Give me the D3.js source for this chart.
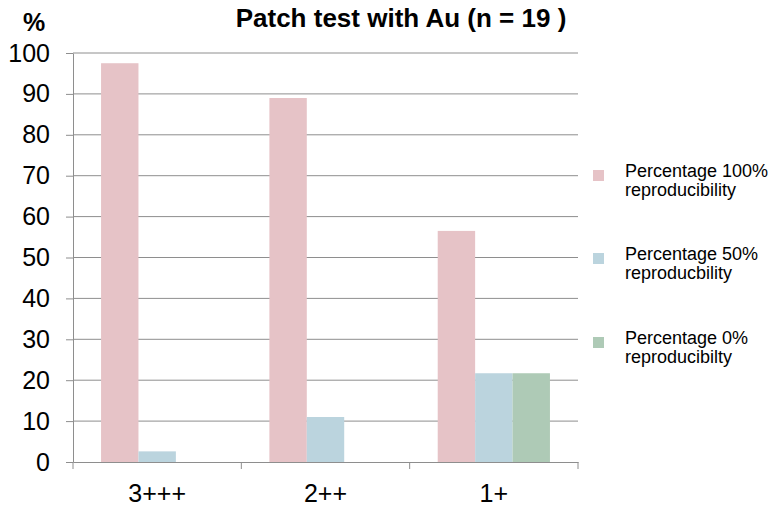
<!DOCTYPE html>
<html><head><meta charset="utf-8">
<script src="https://cdn.jsdelivr.net/npm/d3@7"></script>
<style>body{margin:0;background:#fff;} text{font-family:"Liberation Sans",Arial,sans-serif;}</style>
</head><body>
<svg id="c" width="776" height="506"></svg>
<script>
const categories = ["3+++", "2++", "1+"];
const seriesNames = ["Percentage 100%\nreproducibility", "Percentage 50%\nreproducbility", "Percentage 0%\nreproducibilty"];
const pct100 = [97.5, 89.0, 56.5];
const pct50 = [2.6, 11.0, 21.7];
const pct0 = [0, 0, 21.7];
const yTicks = [0, 10, 20, 30, 40, 50, 60, 70, 80, 90, 100];
const colors = ["#E6C3C7", "#BBD4DE", "#AECAB6"];
const series = [pct100, pct50, pct0];

(function(){
const svg = d3.select("#c");
const pl = 73, pr = 578, pt = 53, pb = 462;
const ff = "Liberation Sans, Arial, sans-serif";
const x = d3.scaleBand().domain(categories).range([pl, pr]).paddingInner(0).paddingOuter(0);
const y = d3.scaleLinear().domain([0, 100]).range([pb, pt]);
const xs = d3.scaleBand().domain(d3.range(series.length)).range([0, x.bandwidth()]).paddingOuter(0.75).paddingInner(0);

svg.append("g").selectAll("line").data(yTicks.filter(d => d > 0)).join("line")
  .attr("x1", pl).attr("x2", pr).attr("y1", d => y(d)).attr("y2", d => y(d))
  .attr("stroke", "#8E8E8E").attr("stroke-width", 1);

series.forEach((vals, si) => {
  svg.append("g").selectAll("rect").data(vals.map((v, i) => ({c: categories[i], v}))).join("rect")
    .attr("x", d => x(d.c) + xs(si)).attr("width", xs.bandwidth())
    .attr("y", d => y(d.v)).attr("height", d => pb - y(d.v))
    .attr("fill", colors[si]);
});

const ya = svg.append("g").attr("transform", `translate(${pl},0)`)
  .call(d3.axisLeft(y).tickValues(yTicks).tickSize(7).tickSizeOuter(0).tickPadding(16));
ya.select(".domain").attr("stroke", "#8E8E8E");
ya.selectAll(".tick line").attr("stroke", "#8E8E8E");
ya.selectAll(".tick text").attr("font-size", 25).attr("fill", "#000").attr("font-family", ff);

const xa = svg.append("g").attr("transform", `translate(0,${pb})`)
  .call(d3.axisBottom(x).tickSize(0).tickSizeOuter(0).tickPadding(22));
xa.select(".domain").attr("stroke", "#8E8E8E");
xa.selectAll(".tick text").attr("font-size", 25).attr("fill", "#000").attr("font-family", ff);
svg.append("g").selectAll("line").data([pl, ...categories.map(c => x(c) + x.bandwidth())]).join("line")
  .attr("x1", d => d).attr("x2", d => d).attr("y1", pb).attr("y2", pb + 7)
  .attr("stroke", "#8E8E8E");

svg.append("text").attr("x", 401).attr("y", 27).attr("text-anchor", "middle")
  .attr("font-size", 26).attr("font-weight", "bold").text("Patch test with Au (n = 19 )");
svg.append("text").attr("x", 34).attr("y", 31).attr("text-anchor", "middle")
  .attr("font-size", 25).attr("font-weight", "bold").text("%");

const legY = [177, 260, 344];
seriesNames.forEach((name, i) => {
  svg.append("rect").attr("x", 593).attr("y", legY[i] - 7).attr("width", 11).attr("height", 11).attr("fill", colors[i]);
  const t = svg.append("text").attr("x", 625).attr("y", legY[i]).attr("font-size", 18).attr("fill", "#000");
  name.split("\n").forEach((ln, j) => t.append("tspan").attr("x", 625).attr("dy", j === 0 ? 0 : 18.5).text(ln));
});
})();
</script>
</body></html>
